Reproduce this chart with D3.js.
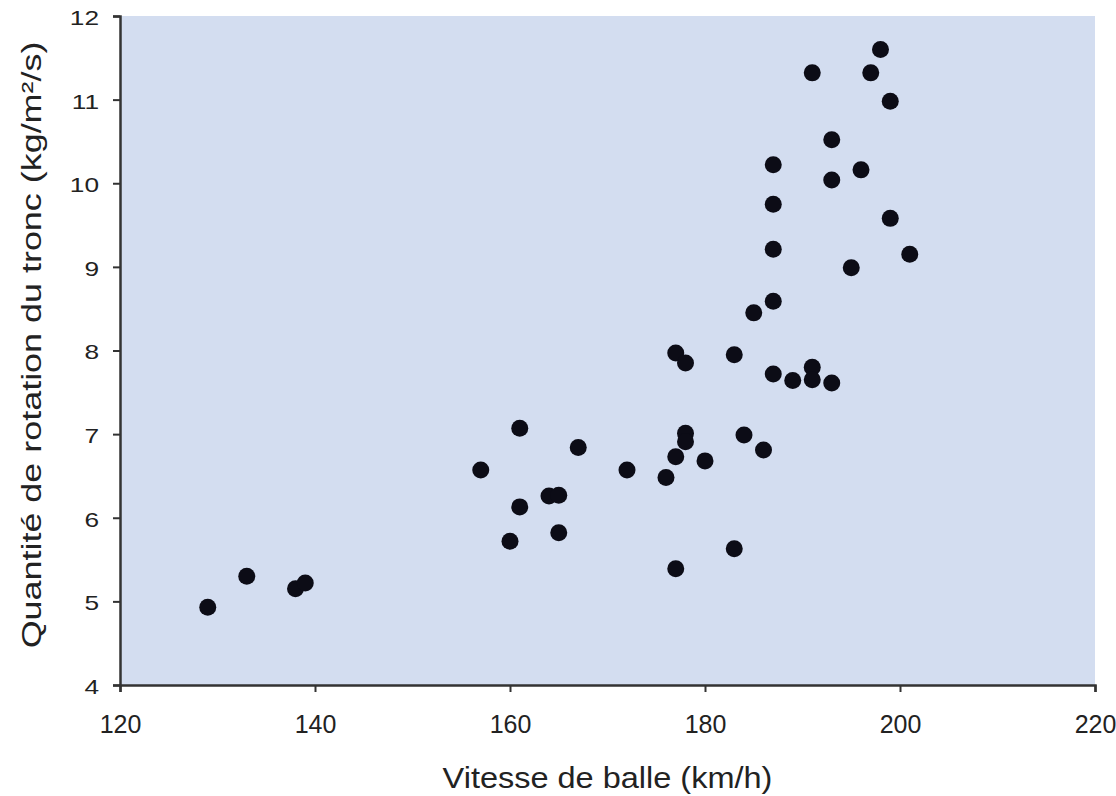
<!DOCTYPE html>
<html>
<head>
<meta charset="utf-8">
<script src="https://cdn.jsdelivr.net/npm/d3@7"></script>
<style>
  body { margin: 0; background: #fff; }
  text { font-family: "Liberation Sans", Arial, sans-serif; fill: #222; }
</style>
</head>
<body>
<div id="chart"></div>
<script>
// ball speed (km/h) for each throw
var speed = [129, 133, 138, 139, 157, 160, 161, 161, 164, 165, 165, 167, 172, 176, 177, 177, 177,
             178, 178, 178, 180, 183, 183, 184, 186, 185, 187, 187, 187, 187, 187, 189, 191, 191,
             193, 191, 193, 193, 196, 195, 198, 197, 199, 199, 201];
// trunk angular momentum (kg/m2/s) for the same throws
var trunk = [4.93, 5.3, 5.15, 5.22, 6.57, 5.72, 7.07, 6.13, 6.26, 6.27, 5.82, 6.84, 6.57, 6.48, 6.73, 5.39, 7.97,
             7.85, 7.01, 6.91, 6.68, 7.95, 5.63, 6.99, 6.81, 8.45, 8.59, 9.21, 9.75, 10.22, 7.72, 7.64, 7.8, 7.65,
             7.61, 11.32, 10.52, 10.04, 10.16, 8.99, 11.6, 11.32, 10.98, 9.58, 9.15];
var xTicks = [120, 140, 160, 180, 200, 220];
var yTicks = [4, 5, 6, 7, 8, 9, 10, 11, 12];

var width = 1116, height = 796;
var margin = {top: 16, right: 21, bottom: 111, left: 120};
var w = width - margin.left - margin.right,
    h = height - margin.top - margin.bottom;

var svg = d3.select("#chart").append("svg").attr("width", width).attr("height", height);
var g = svg.append("g").attr("transform", "translate(" + margin.left + "," + margin.top + ")");

var x = d3.scaleLinear().domain([120, 220]).range([0, w]);
var y = d3.scaleLinear().domain([4, 12]).range([h, 0]);

// the original figure has slightly stretched lettering, widen text a bit
function stretch(sel, k) {
    sel.each(function() {
        var len = this.getComputedTextLength();
        d3.select(this).attr("textLength", len * k).attr("lengthAdjust", "spacingAndGlyphs");
    });
}

// plot background
g.append("rect").attr("width", w).attr("height", h).attr("fill", "#d3ddf0");

// axes
var xAxis = g.append("g").attr("transform", "translate(0," + h + ")")
    .call(d3.axisBottom(x).tickValues(xTicks).tickSize(7).tickPadding(23));
var yAxis = g.append("g")
    .call(d3.axisLeft(y).tickValues(yTicks).tickSize(7).tickPadding(14));
[xAxis, yAxis].forEach(function(a) {
    a.select(".domain").attr("stroke", "#333").attr("stroke-width", 2.5);
    a.selectAll(".tick line").attr("stroke", "#333").attr("stroke-width", 2);
    a.selectAll("text").attr("fill", "#222").attr("font-family", null);
});
xAxis.selectAll("text").style("font-size", "25px");
yAxis.selectAll("text").style("font-size", "21px").attr("dy", "0.4em");
stretch(yAxis.selectAll("text"), 1.25);

// points
var pts = speed.map(function(s, i) { return {x: s, y: trunk[i]}; });
g.selectAll("circle").data(pts).enter().append("circle")
    .attr("cx", function(d) { return x(d.x); })
    .attr("cy", function(d) { return y(d.y); })
    .attr("r", 8.5)
    .attr("fill", "#0c0c16");

// axis titles
svg.append("text").attr("x", margin.left + w / 2).attr("y", 788).attr("text-anchor", "middle")
    .style("font-size", "29px").text("Vitesse de balle (km/h)")
    .call(stretch, 1.12);
svg.append("text").attr("transform", "translate(41,345) rotate(-90)")
    .attr("text-anchor", "middle").style("font-size", "27px")
    .text("Quantité de rotation du tronc (kg/m²/s)")
    .call(stretch, 1.33);
</script>
</body>
</html>
